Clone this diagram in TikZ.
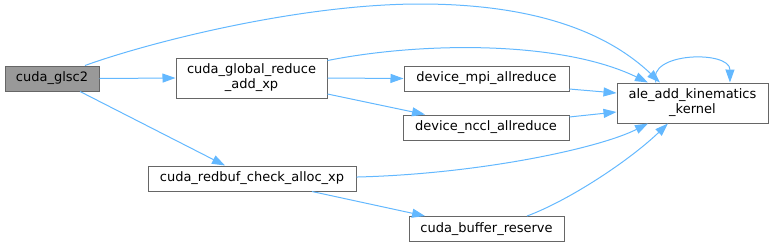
\documentclass[tikz,border=0pt]{standalone}
\usepackage{fontspec}
\setmainfont{DejaVu Sans}
\usetikzlibrary{arrows.meta}
\definecolor{edgeblue}{HTML}{63B8FF}
\definecolor{boxgray}{HTML}{666666}
\definecolor{rootgray}{HTML}{999999}

\begin{document}
\begin{tikzpicture}[x=0.75pt, y=-0.75pt, every node/.style={font=\fontsize{9.75}{11.25}\selectfont},
  fn/.style={rectangle,draw=boxgray,line width=0.75pt,fill=white,align=center,inner sep=0pt,minimum height=18.75pt},
  call/.style={draw=edgeblue,line width=0.75pt,-{Triangle[length=9.75pt,width=6.75pt]}}]

\useasboundingbox (0,0) rectangle (775,247);

\node[fn,fill=rootgray,minimum width=70.5pt] (glsc) at (52,78.5) {cuda\_glsc2};
\node[fn,minimum width=113.25pt,minimum height=30pt] (reduce) at (251.5,78) {cuda\_global\_reduce\\\_add\_xp};
\node[fn,minimum width=156pt] (redbuf) at (252,178.5) {cuda\_redbuf\_check\_alloc\_xp};
\node[fn,minimum width=123.75pt] (mpi) at (486.5,78.5) {device\_mpi\_allreduce};
\node[fn,minimum width=124.5pt] (nccl) at (486,127.5) {device\_nccl\_allreduce};
\node[fn,minimum width=116.25pt] (reserve) at (486.5,229) {cuda\_buffer\_reserve};
\node[fn,minimum width=113.25pt,minimum height=30pt] (kernel) at (692.5,103) {ale\_add\_kinematics\\\_kernel};

\draw[call] ([xshift=24.75pt]glsc.north) .. controls (150,42) and (300,4) .. (420,4) .. controls (540,4) and (610,35) .. ([xshift=-24.4pt]kernel.north);
\draw[call] (glsc.east) -- (reduce.west);
\draw[call] ([xshift=21pt]glsc.south) -- ([xshift=-20.25pt]redbuf.north);
\draw[call] ([yshift=13.1pt]reduce.east) .. controls (420,42) and (560,40) .. ([xshift=-33.4pt]kernel.north);
\draw[call] (reduce.east) -- (mpi.west);
\draw[call] ([yshift=-12pt]reduce.east) -- ([xshift=-45.75pt]nccl.north);
\draw[call] ([yshift=-7.9pt]mpi.east) -- ([yshift=7.5pt]kernel.west);
\draw[call] ([yshift=7.9pt]nccl.east) -- ([yshift=-6.75pt]kernel.west);
\draw[call] ([yshift=1.1pt]redbuf.east) .. controls (480,174) and (600,148) .. ([xshift=-33.4pt]kernel.south);
\draw[call] ([xshift=45pt]redbuf.south) -- ([xshift=-46.1pt]reserve.north);
\draw[call] ([xshift=30.4pt]reserve.north) .. controls (570,200) and (630,160) .. ([xshift=-18.4pt]kernel.south);
\draw[call] ([xshift=-27.4pt]kernel.north) .. controls (646,52) and (730,50) .. ([xshift=28.1pt]kernel.north);

\end{tikzpicture}
\end{document}
